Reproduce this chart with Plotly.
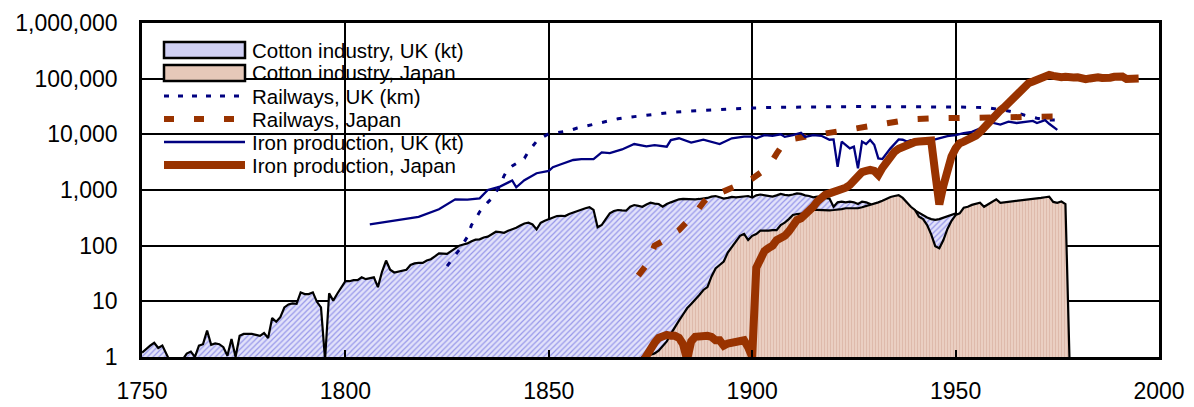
import plotly.graph_objects as go

# ---------------- data ----------------
uk_cotton_years = list(range(1750, 1953))
uk_cotton_kt = [
    1.2, 1.4, 1.6, 1.8, 1.45, 1.6, 1.1, 0.8, 0.7, 0.8,
    0.9, 1.15, 1.25, 1.0, 1.6, 1.7, 3.0, 1.65, 1.75, 1.7,
    1.5, 1.05, 2.1, 1.0, 2.4, 2.6, 2.6, 2.6, 2.5, 2.4,
    2.7, 2.2, 5.0, 4.3, 5.2, 7.8, 8.8, 9.2, 9.0, 14.5,
    13.5, 13.5, 14.5, 9.8, 7.8, 0.9, 14, 10.3, 13.7, 18,
    23, 23, 24, 24, 27, 25, 26, 27, 18, 34,
    54, 37, 33, 34, 36, 37, 45, 48, 49, 49,
    54, 57, 64, 73, 72, 71, 80, 90, 100, 105,
    110, 120, 128, 130, 140, 145, 160, 178, 175, 170,
    185, 196, 210, 230, 250, 258, 240, 196, 258, 281,
    300, 320, 340, 345, 340, 370, 395, 425, 445, 470,
    490, 440, 214, 235, 300, 381, 420, 437, 430, 425,
    500, 537, 520, 500, 550, 590, 570, 560, 500, 560,
    600, 640, 680, 690, 680, 670, 680, 690, 700, 720,
    760, 780, 740, 700, 720, 750, 740, 760, 780, 780,
    730, 800, 830, 810, 790, 760, 800, 850, 820, 800,
    830, 870, 850, 800, 780, 740, 760, 740, 740, 700,
    500, 600, 620, 600, 620, 600, 560, 620, 600, 560,
    480, 450, 470, 480, 500, 520, 510, 530, 500, 480,
    430, 390, 350, 320, 300, 290, 300, 320, 340, 360,
    380, 350, 300,
]

jp_cotton_years = list(range(1868, 1979))
jp_cotton_kt = [
    0.3, 0.6, 0.2, 0.5, 0.7,
    1.0, 1.05, 1.1, 1.16, 1.3, 1.6, 1.9,
    2.6, 3.5, 4.5, 5.8, 7.5, 9, 10.6, 13, 16, 18,
    28, 39, 45, 52, 75, 96, 120, 150, 162, 126,
    150, 162, 186, 185, 186, 190, 190, 235, 260, 300,
    355, 370, 375, 380, 400, 437, 440, 435, 430, 430,
    437, 440, 455, 470, 470, 470, 470, 490, 515, 540,
    560, 600, 640, 700, 750, 780, 810, 720, 600, 500,
    437, 330, 300, 235, 160, 98, 90, 126, 200, 280,
    355, 380, 480, 500, 540, 560, 590, 500, 560, 620,
    680, 590, 600, 610, 620, 640, 650, 660, 670, 680,
    700, 720, 740, 760, 610, 590, 620, 560, 0.9,
]

uk_rail_years = [1825, 1826, 1827, 1828, 1829, 1830, 1831, 1832, 1833, 1834,
                 1835, 1836, 1837, 1838, 1839, 1840, 1841, 1842, 1843, 1844,
                 1845, 1846, 1847, 1848, 1849, 1850, 1851, 1853, 1855, 1857,
                 1859, 1861, 1863, 1865, 1867, 1869, 1871, 1873, 1875, 1877,
                 1880, 1885, 1889, 1893, 1897, 1900, 1905, 1910, 1915, 1920,
                 1925, 1930, 1935, 1940, 1945, 1950, 1955, 1958, 1962, 1965,
                 1967, 1970, 1973, 1975]
uk_rail_km = [43, 55, 68, 84, 110, 145, 235, 300, 405, 500,
              600, 710, 900, 1180, 1800, 2400, 2700, 3000, 3300, 3700,
              4900, 6000, 7500, 8500, 9500, 10300, 10500, 11000, 11600, 13000,
              14000, 15500, 16400, 18000, 19000, 20000, 20800, 22000, 22900, 24000,
              24800, 26300, 27300, 28200, 29300, 29700, 30500, 31000, 31200, 31300,
              31500, 31500, 31000, 31000, 31000, 31000, 30500, 30000, 27000, 24500,
              22000, 19500, 18000, 18000]

jp_rail_years = [1872, 1874, 1876, 1878, 1880, 1882, 1884, 1886, 1888, 1890,
                 1892, 1894, 1896, 1898, 1900, 1902, 1904, 1906, 1908, 1910,
                 1913, 1916, 1920, 1924, 1928, 1931, 1935, 1939, 1945, 1950,
                 1955, 1960, 1965, 1970, 1977]
jp_rail_km = [29, 45, 100, 120, 155, 190, 270, 380, 600, 850,
              880, 1000, 1150, 1350, 1600, 2000, 2600, 4500, 7400, 8300,
              9000, 9700, 11000, 12400, 14000, 15200, 17200, 18600, 19400, 19700,
              20000, 20300, 20600, 21000, 21000]

uk_iron_years = [1806, 1812, 1818, 1823, 1827, 1830, 1833, 1835, 1838, 1841,
                 1842, 1844, 1847, 1850, 1851, 1853, 1856, 1858, 1861, 1863,
                 1865, 1868, 1871, 1874, 1876, 1879, 1880, 1882, 1885, 1888,
                 1892, 1895, 1898, 1900, 1901, 1903, 1905, 1907, 1908, 1910,
                 1912, 1913, 1915, 1917, 1919, 1920, 1921, 1922, 1924, 1925,
                 1926, 1927, 1928, 1929, 1930, 1931, 1932, 1934, 1936, 1937,
                 1938, 1939, 1943, 1945, 1948, 1950, 1952, 1954, 1957, 1959,
                 1961, 1963, 1965, 1967, 1969, 1970, 1972, 1973, 1975]
uk_iron_kt = [242, 281, 330, 450, 680, 670, 710, 1000, 1150, 1480,
              1120, 1500, 2000, 2200, 2560, 2900, 3460, 3600, 3600, 4750,
              4600, 5350, 6700, 6100, 6400, 6000, 7900, 8500, 7100, 8000,
              6700, 8500, 9100, 9100, 8500, 9700, 9400, 10000, 9000, 9700,
              10700, 9000, 9700, 9400, 8000, 8100, 2600, 7400, 5600, 6000,
              2450, 7400, 6700, 7900, 6500, 3700, 3600, 5600, 8100, 8000,
              7400, 7900, 7900, 8100, 9300, 9700, 10500, 11100, 13700, 16200,
              15000, 16900, 16000, 16900, 17400, 16000, 18000, 15500, 12000]

jp_iron_years = list(range(1873, 1996))
jp_iron_kt = [
    0.8, 1.1, 1.3, 1.8, 2.2, 2.4, 2.5,
    2.4, 2.4, 2.2, 1.7, 0.9, 1.9, 2.3, 2.4, 2.4, 2.4,
    2.3, 2.0, 2.0, 1.6, 1.75, 1.8, 1.8, 1.9, 2.0, 1.5,
    1.0, 40, 55, 80, 90, 100, 126, 135, 150, 180,
    230, 290, 310, 360, 400, 500, 620, 760, 830, 870,
    930, 950, 980, 1100, 1230, 1500, 1800, 2100, 2200, 2300,
    2200, 1860, 2500, 3200, 3900, 4900, 5500, 6000, 6700, 7000,
    7300, 7400, 7600, 7900, 7700, 2000, 550, 1200, 2300, 4000,
    5600, 6900, 7400, 8000, 8500, 9500, 11000, 13500, 16500, 19400,
    23000, 27000, 31000, 37000, 44000, 52000, 58000, 70000, 84000, 89000,
    95000, 105000, 110000, 117000, 112000, 105000, 106000, 108000, 104000, 105000,
    106000, 100000, 98000, 101000, 105000, 106000, 103000, 101000, 104000, 108000,
    110000, 109000, 99000, 98000, 100000, 101000,
]

series_names = ["Cotton industry, UK (kt)", "Cotton industry, Japan",
                "Railways, UK (km)", "Railways, Japan",
                "Iron production, UK (kt)", "Iron production, Japan"]

x_ticks = [1750, 1800, 1850, 1900, 1950, 2000]
y_ticks = [1, 10, 100, 1000, 10000, 100000, 1000000]
y_tick_text = ["1", "10", "100", "1,000", "10,000", "100,000", "1,000,000"]

# ---------------- style ----------------
NAVY = "#000080"
RUST = "#993300"
FONT = "Liberation Sans, Arial, sans-serif"
W, H = 1194, 407
L, R, T, B = 142, 1159, 23, 357


def px(x):
    return (x - L) / (R - L)


def py(y):
    return (B - y) / (B - T)


fig = go.Figure()
fig.add_trace(go.Scatter(
    x=uk_cotton_years, y=uk_cotton_kt, name=series_names[0], mode="lines",
    fill="tozeroy", line=dict(color="black", width=2.2),
    fillpattern=dict(shape="/", fgcolor="#4a4ad8", bgcolor="#e2e2fa",
                     size=4, solidity=0.3),
    showlegend=False))
fig.add_trace(go.Scatter(
    x=jp_cotton_years, y=jp_cotton_kt, name=series_names[1], mode="lines",
    fill="tozeroy", line=dict(color="black", width=2.2),
    fillpattern=dict(shape="|", fgcolor="#d2a693", bgcolor="#eacfc2",
                     size=3, solidity=0.35),
    showlegend=False))
fig.add_trace(go.Scatter(
    x=uk_rail_years, y=uk_rail_km, name=series_names[2], mode="lines",
    line=dict(color=NAVY, width=3, dash="5px,10px"), showlegend=False))
fig.add_trace(go.Scatter(
    x=jp_rail_years, y=jp_rail_km, name=series_names[3], mode="lines",
    line=dict(color=RUST, width=6, dash="11px,20px"), showlegend=False))
fig.add_trace(go.Scatter(
    x=uk_iron_years, y=uk_iron_kt, name=series_names[4], mode="lines",
    line=dict(color=NAVY, width=2.3), showlegend=False))
fig.add_trace(go.Scatter(
    x=jp_iron_years, y=jp_iron_kt, name=series_names[5], mode="lines",
    line=dict(color=RUST, width=8), showlegend=False))

# ---------------- manual legend ----------------
shapes = [dict(type="rect", xref="paper", yref="paper", layer="between",
               x0=px(145), x1=px(513), y0=py(176), y1=py(34),
               fillcolor="white", line=dict(width=0))]
row_gap = 23
row_y = [107.5 + (i - 2.5) * row_gap for i in range(6)]
sx0, sx1 = 164, 245
for i, col in enumerate(["#cfcff3", "#e6c8b9"]):
    yc = row_y[i]
    shapes.append(dict(type="rect", xref="paper", yref="paper", layer="above",
                       x0=px(sx0), x1=px(sx1), y0=py(yc + 8), y1=py(yc - 8),
                       fillcolor=col, line=dict(color="black", width=2.5)))
line_styles = [(NAVY, 3, "5px,9px"), (RUST, 6, "10px,20px"),
               (NAVY, 2.5, "solid"), (RUST, 8, "solid")]
for (col, wd, ds), yy in zip(line_styles, row_y[2:]):
    shapes.append(dict(type="line", xref="paper", yref="paper", layer="above",
                       x0=px(sx0), x1=px(sx1), y0=py(yy), y1=py(yy),
                       line=dict(color=col, width=wd, dash=ds)))

annotations = []
for name, yy in zip(series_names, row_y):
    annotations.append(dict(text=name, xref="paper", yref="paper",
                            x=px(250), y=py(yy), xanchor="left", yanchor="middle",
                            showarrow=False,
                            font=dict(family=FONT, size=20.5, color="black")))

fig.update_layout(
    width=W, height=H,
    margin=dict(l=L, r=W - R, t=T, b=H - B, pad=0, autoexpand=False),
    paper_bgcolor="white", plot_bgcolor="white",
    font=dict(family=FONT, size=23, color="black"),
    shapes=shapes, annotations=annotations, showlegend=False,
    xaxis=dict(range=[1750, 2000], tickvals=x_ticks, ticks="inside", ticklen=7,
               tickwidth=2, tickcolor="black", showgrid=True, gridcolor="black",
               gridwidth=2, showline=True, linecolor="black", linewidth=2.5,
               mirror="ticks", zeroline=False, ticklabelstandoff=12,
               automargin=False,
               tickfont=dict(family=FONT, size=23, color="black")),
    yaxis=dict(type="log", range=[0, 6], tickvals=y_ticks, ticktext=y_tick_text,
               ticks="inside", ticklen=7, tickwidth=2, tickcolor="black",
               showgrid=True, gridcolor="black", gridwidth=2, showline=True,
               linecolor="black", linewidth=2.5, mirror="ticks", zeroline=False,
               ticklabelstandoff=17, automargin=False,
               tickfont=dict(family=FONT, size=23, color="black")),
)

fig.write_html(
    "out.html",
    config={"displayModeBar": False},
    post_script="document.body.style.margin='0';document.body.style.overflow='hidden';",
)
